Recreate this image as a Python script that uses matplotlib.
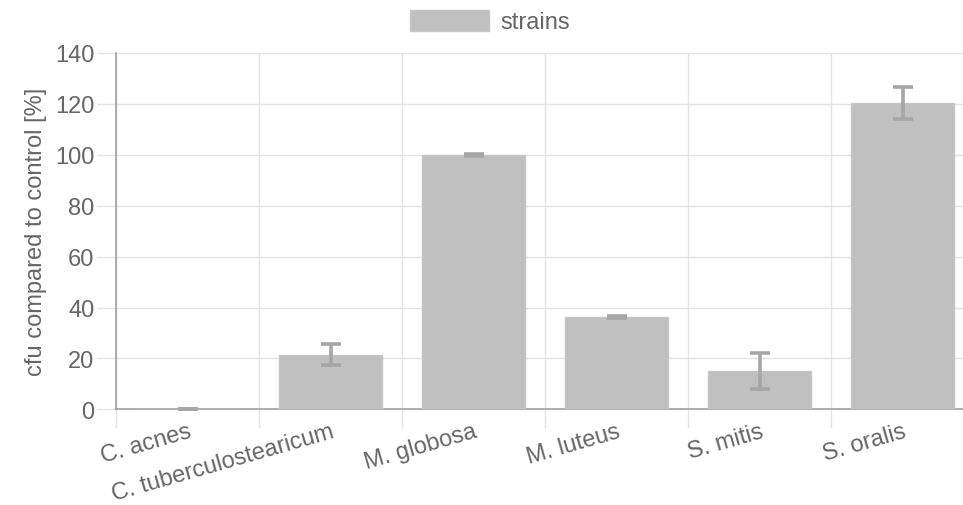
import numpy as np
import matplotlib
matplotlib.use("Agg")
import matplotlib.pyplot as plt

# strains and cfu relative to control
strains = ["C. acnes", "C. tuberculostearicum", "M. globosa", "M. luteus", "S. mitis", "S. oralis"]
cfu = [0.0, 21.5, 100.0, 36.2, 15.0, 120.5]
cfu_err = [0.0, 4.0, 0.3, 0.4, 7.0, 6.3]
yticks = [0, 20, 40, 60, 80, 100, 120, 140]

plt.rcParams['font.family'] = ['Liberation Sans', 'DejaVu Sans']
txt = '#666666'
grid = '#e4e4e4'
axc = '#a0a0a0'
fs = 17

fig = plt.figure(figsize=(9.63, 5.06), dpi=100)
ax = fig.add_axes([116/963, 1 - 410.3/506, (963-116)/963, (410.3-54)/506])

x = np.arange(len(strains))
bars = ax.bar(x, cfu, width=0.72, color='#c0c0c0', edgecolor='#c6c6c6', linewidth=1,
              label='strains', zorder=3)
ax.errorbar(x, cfu, yerr=cfu_err, fmt='none', ecolor='#a6a6a6', elinewidth=2.6,
            capsize=7, capthick=2.6, zorder=4, clip_on=False)

ax.set_ylim(0, 140)
ax.set_yticks(yticks)
ax.set_xlim(-0.5, 5.5 - 11/143)
ax.set_xticks(x)
ax.set_xticklabels(strains, rotation=16, ha='right', va='top', rotation_mode='anchor')
# vertical grid between categories, like chart.js offset grid
ax.set_xticks(np.arange(len(strains)) - 0.5, minor=True)
ax.grid(True, axis='y', color=grid, linewidth=1, zorder=0)
ax.grid(True, axis='x', which='minor', color=grid, linewidth=1, zorder=0)
ax.tick_params(axis='x', which='major', length=0, pad=8, labelsize=fs, labelcolor=txt)
ax.tick_params(axis='x', which='minor', length=14, color=grid, width=1)
ax.tick_params(axis='y', length=14, color=grid, width=1, labelsize=fs, labelcolor=txt, pad=1.5)

for s in ['top', 'right']:
    ax.spines[s].set_visible(False)
ax.spines['left'].set_color(axc)
ax.spines['bottom'].set_color(axc)
ax.spines['left'].set_linewidth(1.2)
ax.spines['bottom'].set_linewidth(1.2)

ax.set_ylabel('cfu compared to control [%]', fontsize=fs, color=txt, labelpad=6)

fig.legend(handles=[bars], labels=['strains'], loc='center', bbox_to_anchor=(490/963, 1 - 22.5/506),
           frameon=False, fontsize=fs, labelcolor=txt, handlelength=3.35, handleheight=1.0,
           handletextpad=0.5)

fig.savefig('out.png', dpi=100)
